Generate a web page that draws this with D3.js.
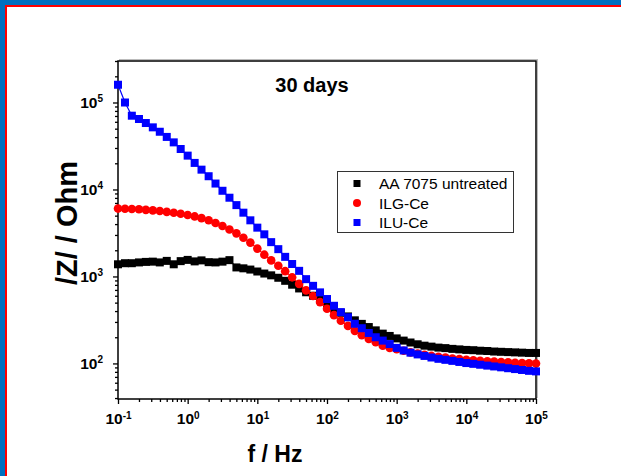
<!DOCTYPE html>
<html>
<head>
<meta charset="utf-8">
<script src="https://cdn.jsdelivr.net/npm/d3@7"></script>
<style>
    body { margin: 0; background: #fff; }
    svg text { font-family: Arial, "Liberation Sans", sans-serif; }
</style>
</head>
<body>
<svg width="621" height="476"></svg>
<script>
// frequencies (Hz)
var freq = [0.1, 0.126, 0.158, 0.2, 0.251, 0.316, 0.398, 0.501, 0.631, 0.794,
    1, 1.26, 1.58, 2, 2.51, 3.16, 3.98, 5.01, 6.31, 7.94,
    10, 12.6, 15.8, 20, 25.1, 31.6, 39.8, 50.1, 63.1, 79.4,
    100, 126, 158, 200, 251, 316, 398, 501, 631, 794,
    1000, 1260, 1580, 2000, 2510, 3160, 3980, 5010, 6310, 7940,
    10000, 12600, 15800, 20000, 25100, 31600, 39800, 50100, 63100, 79400, 100000];

// |Z| (Ohm) for each sample
var untreated = [1380, 1420, 1420, 1450, 1470, 1480, 1450, 1510, 1380, 1500,
    1550, 1490, 1530, 1460, 1450, 1480, 1540, 1270, 1240, 1200,
    1140, 1080, 1030, 966, 891, 804, 728, 658, 600, 543,
    484, 427, 382, 347, 313, 285, 262, 240, 220, 207,
    194, 183, 174, 166, 160, 156, 152, 150, 147, 145,
    143, 142, 140, 139, 137, 136, 135, 134, 133, 132, 132];

var ilgCe = [6030, 6000, 5960, 5920, 5830, 5750, 5650, 5530, 5410, 5250,
    5080, 4900, 4680, 4420, 4120, 3800, 3470, 3130, 2790, 2450,
    2090, 1780, 1530, 1330, 1150, 977, 822, 692, 596, 507,
    425, 359, 309, 270, 237, 211, 191, 175, 160, 151,
    146, 140, 134, 130, 126, 122, 119, 117, 114, 112,
    110, 109, 107, 106, 105, 104, 103, 102, 101, 100.5, 100];

var iluCe = [160000, 100000, 70500, 64600, 58100, 51800, 46100, 40200, 34800, 29200,
    24500, 20200, 16900, 14200, 11700, 9660, 8040, 6610, 5410, 4420,
    3640, 3050, 2480, 2060, 1680, 1390, 1160, 931, 780, 656,
    550, 460, 389, 339, 286, 254, 224, 200, 183, 167,
    151, 141, 133, 127, 122, 117, 113, 110, 107, 104,
    101, 98.9, 96.6, 94.4, 92.3, 90.2, 88.1, 86.1, 84.1, 82.2, 81];

var seriesNames = ["AA 7075 untreated", "ILG-Ce", "ILU-Ce"];
var xTickExp = [-1, 0, 1, 2, 3, 4, 5];
var yTickExp = [2, 3, 4, 5];

var svg = d3.select("svg");

// slide frame
svg.append("rect").attr("x", 0).attr("y", 0).attr("width", 621).attr("height", 5).attr("fill", "#0070C0");
svg.append("rect").attr("x", 0).attr("y", 0).attr("width", 5).attr("height", 476).attr("fill", "#0070C0");
svg.append("rect").attr("x", 5).attr("y", 5).attr("width", 616).attr("height", 2).attr("fill", "#FF0000");
svg.append("rect").attr("x", 5).attr("y", 5).attr("width", 2).attr("height", 471).attr("fill", "#FF0000");

var pLeft = 118, pRight = 536, pTop = 61, pBottom = 399;

var x = d3.scaleLog().domain([0.1, 1e5]).range([pLeft, pRight]);
var y = d3.scaleLog().domain([39, 3e5]).range([pBottom, pTop]);

var colors = ["#000000", "#FF0000", "#0000FF"];
var shapes = ["square", "circle", "square"];
var allSeries = [untreated, ilgCe, iluCe];

// minor ticks
var xMinor = [], yMinor = [];
for (var e = -1; e < 5; e++) {
    for (var m = 2; m < 10; m++) xMinor.push(m * Math.pow(10, e));
}
for (var e = 1; e < 6; e++) {
    for (var m = 2; m < 10; m++) {
        var v = m * Math.pow(10, e);
        if (v >= 39 && v <= 3e5) yMinor.push(v);
    }
}

function expLabel(sel, exps) {
    sel.selectAll(".tick text").each(function(d, i) {
        var t = d3.select(this).text("");
        t.append("tspan").text("10");
        t.append("tspan").attr("dy", "-0.55em").attr("font-size", "10px").text(exps[i]);
    });
}

// x axis
var gx = svg.append("g").attr("transform", "translate(0," + pBottom + ")");
gx.append("g").call(d3.axisBottom(x).tickValues(xMinor).tickSize(3).tickFormat(""));
var gxMajor = gx.append("g").call(d3.axisBottom(x).tickValues(xTickExp.map(function(d) { return Math.pow(10, d); }))
    .tickSize(5).tickPadding(9).tickFormat(""));
expLabel(gxMajor, xTickExp);
gx.selectAll("text").attr("font-size", "15.5px").attr("font-weight", "bold").attr("fill", "#000");

// y axis
var gy = svg.append("g").attr("transform", "translate(" + pLeft + ",0)");
gy.append("g").call(d3.axisLeft(y).tickValues(yMinor).tickSize(3).tickFormat(""));
var gyMajor = gy.append("g").call(d3.axisLeft(y).tickValues(yTickExp.map(function(d) { return Math.pow(10, d); }))
    .tickSize(5).tickPadding(10).tickFormat(""));
expLabel(gyMajor, yTickExp);
gy.selectAll("text").attr("font-size", "15.5px").attr("font-weight", "bold").attr("fill", "#000");

svg.selectAll(".domain").remove();
svg.selectAll(".tick line").attr("stroke", "#000").attr("stroke-width", 1.3);

// plot frame with light shadow
svg.append("rect").attr("x", pLeft + 1.5).attr("y", pTop - 1.5)
    .attr("width", pRight - pLeft).attr("height", pBottom - pTop)
    .attr("fill", "none").attr("stroke", "#bbb").attr("stroke-width", 1);
svg.append("rect").attr("x", pLeft).attr("y", pTop)
    .attr("width", pRight - pLeft).attr("height", pBottom - pTop)
    .attr("fill", "#fff").attr("stroke", "#000").attr("stroke-width", 1.5);

var line = d3.line()
    .x(function(d) { return x(d[0]); })
    .y(function(d) { return y(d[1]); });

allSeries.forEach(function(vals, k) {
    var pts = freq.map(function(f, i) { return [f, vals[i]]; });
    var g = svg.append("g");
    g.append("path").attr("d", line(pts))
        .attr("fill", "none").attr("stroke", colors[k]).attr("stroke-width", 1.2);
    if (shapes[k] == "circle") {
        g.selectAll("circle").data(pts).enter().append("circle")
            .attr("cx", function(d) { return x(d[0]); })
            .attr("cy", function(d) { return y(d[1]); })
            .attr("r", 4.3).attr("fill", colors[k]);
    } else {
        g.selectAll("rect").data(pts).enter().append("rect")
            .attr("x", function(d) { return x(d[0]) - 4; })
            .attr("y", function(d) { return y(d[1]) - 4; })
            .attr("width", 8).attr("height", 8).attr("fill", colors[k]);
    }
});

// legend
var lg = svg.append("g");
lg.append("rect").attr("x", 337.5).attr("y", 171.5).attr("width", 176).attr("height", 61)
    .attr("fill", "#fff").attr("stroke", "#333").attr("stroke-width", 1);
seriesNames.forEach(function(name, k) {
    var cy = 183.5 + k * 19.5;
    if (shapes[k] == "circle") {
        lg.append("circle").attr("cx", 357).attr("cy", cy).attr("r", 4).attr("fill", colors[k]);
    } else {
        lg.append("rect").attr("x", 353.5).attr("y", cy - 3.5).attr("width", 7).attr("height", 7).attr("fill", colors[k]);
    }
    lg.append("text").attr("x", 379).attr("y", cy + 5.5)
        .attr("font-size", "15.5px").text(name);
});

// titles
svg.append("text").attr("x", 312).attr("y", 92).attr("text-anchor", "middle")
    .attr("font-size", "20px").attr("font-weight", "bold").text("30 days");

svg.append("text").attr("x", 275).attr("y", 462).attr("text-anchor", "middle")
    .attr("font-size", "23px").attr("font-weight", "bold").text("f / Hz");

svg.append("text").attr("transform", "translate(77,223) rotate(-90)")
    .attr("text-anchor", "middle").attr("font-size", "29px").attr("font-weight", "bold")
    .text("/Z/ / Ohm");
</script>
</body>
</html>
